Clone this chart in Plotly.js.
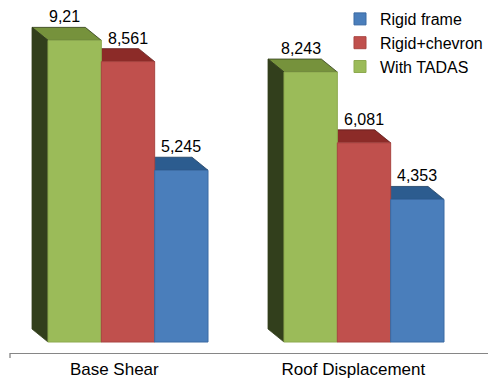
<!DOCTYPE html>
<html>
<head>
<meta charset="utf-8">
<script src="https://cdn.plot.ly/plotly-3.0.1.min.js"></script>
<style>
  html, body { margin: 0; padding: 0; background: #ffffff; }
  #chart { width: 488px; height: 379px; }
</style>
</head>
<body>
<div id="chart"></div>
<script>
// ---- data ----
const categories = ['Base Shear', 'Roof Displacement'];
const seriesNames = ['With TADAS', 'Rigid+chevron', 'Rigid frame'];
const withTadas = [9.21, 8.243];
const rigidChevron = [8.561, 6.081];
const rigidFrame = [5.245, 4.353];
const seriesValues = [withTadas, rigidChevron, rigidFrame];

// ---- style ----
const frontColors = ['#9BBB59', '#C0504D', '#4A7EBB'];
const frontEdges  = ['#8DAA4F', '#A94542', '#3A6AA3'];
const topColors   = ['#76923C', '#8C2B28', '#2C5C8F'];
const sideColors  = ['#323F1C', '#5E1C1A', '#1D3D61'];
const labelXShift = [-10, 0, 0];

const W = 488, H = 379;
const M = {l: 10, r: 0, t: 0, b: 26};
const plotW = W - M.l - M.r, plotH = H - M.t - M.b;
const pxPerCat = 236;
const xRange = [-0.5, -0.5 + plotW / pxPerCat];
const pxPerUnit = 32.75;
const yMin = -11 / pxPerUnit;
const yRange = [yMin, yMin + plotH / pxPerUnit];
const barW = 0.226;
const depthX = -16 / pxPerCat;     // depth offset in x units
const depthY = 13 / pxPerUnit;     // depth offset in y units
const font = 'Liberation Sans, Arial, sans-serif';

const xIdx = categories.map((c, i) => i);
const traces = [];
const shapes = [];
const annotations = [];

seriesValues.forEach((vals, s) => {
  const offset = -1.5 * barW + s * barW;
  traces.push({
    type: 'bar',
    name: seriesNames[s],
    x: xIdx,
    y: vals,
    width: barW,
    offset: offset,
    marker: {color: frontColors[s], line: {color: frontEdges[s], width: 1}},
    hoverinfo: 'name+y'
  });
  vals.forEach((v, i) => {
    const x0 = xIdx[i] + offset, x1 = x0 + barW;
    // top face
    shapes.push({
      type: 'path', xref: 'x', yref: 'y', layer: 'below',
      path: `M${x0},${v} L${x1},${v} L${x1 + depthX},${v + depthY} L${x0 + depthX},${v + depthY} Z`,
      fillcolor: topColors[s], line: {color: sideColors[s], width: 0.8}
    });
    // side face
    shapes.push({
      type: 'path', xref: 'x', yref: 'y', layer: 'below',
      path: `M${x0},${v} L${x0 + depthX},${v + depthY} L${x0 + depthX},${depthY} L${x0},0 Z`,
      fillcolor: sideColors[s], line: {color: sideColors[s], width: 0.8}
    });
    annotations.push({
      x: x0 + barW / 2, y: v + depthY, xref: 'x', yref: 'y',
      text: String(v).replace('.', ','), showarrow: false,
      yanchor: 'bottom', xanchor: 'center', xshift: labelXShift[s], yshift: 0,
      font: {family: font, size: 16, color: '#000000'}
    });
  });
});

// small tick at the left end of the category axis
shapes.push({
  type: 'line', xref: 'paper', yref: 'paper',
  x0: 0, x1: 0, y0: 0, y1: -5 / plotH,
  line: {color: '#868686', width: 1.3}
});

const tickShift = [-0.058, -0.045];
const layout = {
  width: W, height: H,
  margin: M,
  paper_bgcolor: '#ffffff', plot_bgcolor: '#ffffff',
  barmode: 'group',
  showlegend: true,
  legend: {
    x: (340 - M.l) / plotW, xanchor: 'left',
    y: 1 - 2 / plotH, yanchor: 'top',
    traceorder: 'reversed',
    font: {family: font, size: 16, color: '#000000'},
    bgcolor: 'rgba(0,0,0,0)'
  },
  xaxis: {
    range: xRange, fixedrange: true,
    tickmode: 'array',
    tickvals: xIdx.map(i => i + tickShift[i]),
    ticktext: categories,
    ticks: '', showgrid: false, zeroline: false,
    ticklabelstandoff: 0,
    showline: true, linecolor: '#868686', linewidth: 1.3,
    tickfont: {family: font, size: 17, color: '#000000'}
  },
  yaxis: {
    range: yRange, fixedrange: true,
    visible: false, showgrid: false, zeroline: false
  },
  shapes: shapes,
  annotations: annotations
};

Plotly.newPlot('chart', traces, layout, {displayModeBar: false, staticPlot: true});
</script>
</body>
</html>
